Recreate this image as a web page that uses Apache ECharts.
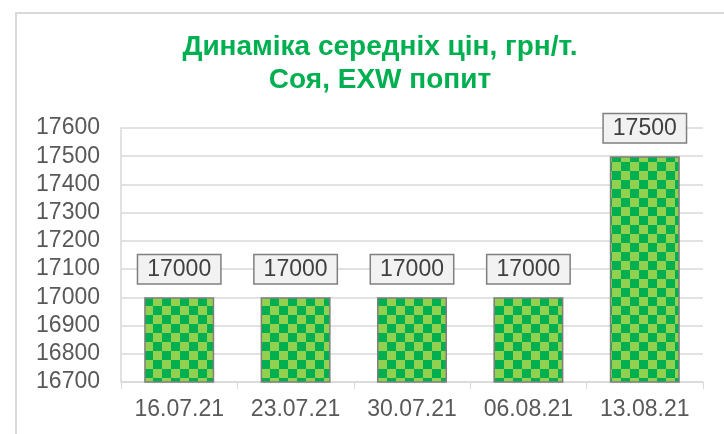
<!DOCTYPE html>
<html>
<head>
<meta charset="utf-8">
<script src="https://cdn.jsdelivr.net/npm/echarts@6/dist/echarts.min.js"></script>
<style>
  html, body { margin: 0; padding: 0; background: #fff; }
  #chart { width: 724px; height: 434px; }
</style>
</head>
<body>
<div id="chart"></div>
<script>
  // data
  var dates = ['16.07.21', '23.07.21', '30.07.21', '06.08.21', '13.08.21'];
  var prices = [17000, 17000, 17000, 17000, 17500];
  var titleLines = ['Динаміка середніх цін, грн/т.', 'Соя, EXW попит'];

  // chequered fill like the excel pattern
  var cell = 9;
  var pat = document.createElement('canvas');
  pat.width = cell * 2;
  pat.height = cell * 2;
  var ctx = pat.getContext('2d');
  ctx.fillStyle = '#92D050';
  ctx.fillRect(0, 0, cell * 2, cell * 2);
  ctx.fillStyle = '#00B050';
  ctx.fillRect(cell, 0, cell, cell);
  ctx.fillRect(0, cell, cell, cell);

  var font = '"Liberation Sans", Arial, sans-serif';
  var chart = echarts.init(document.getElementById('chart'));
  chart.setOption({
    animation: false,
    graphic: [
      {
        type: 'rect',
        shape: { x: 16, y: 13, width: 740, height: 440 },
        style: { fill: 'none', stroke: '#d9d9d9', lineWidth: 2 },
        silent: true
      },
      {
        type: 'text',
        x: 380,
        y: 31,
        style: {
          text: titleLines.join('\n'),
          align: 'center',
          fill: '#00B050',
          font: 'bold 28px "Liberation Sans", Arial, sans-serif',
          lineHeight: 33
        }
      }
    ],
    grid: { left: 121, right: 21, top: 128, bottom: 52 },
    xAxis: {
      type: 'category',
      data: dates,
      axisLine: { lineStyle: { color: '#d9d9d9', width: 1.5 } },
      axisTick: { show: true, length: 7, lineStyle: { color: '#d9d9d9' } },
      axisLabel: { color: '#595959', fontSize: 23, fontFamily: font, margin: 16 }
    },
    yAxis: {
      type: 'value',
      min: 16700,
      max: 17600,
      interval: 100,
      axisLine: { show: true, lineStyle: { color: '#d9d9d9', width: 1.5 } },
      axisTick: { show: false },
      splitLine: { lineStyle: { color: '#d9d9d9', width: 1.5 } },
      axisLabel: {
        color: '#595959', fontSize: 23, fontFamily: font, margin: 21,
        formatter: function (v) { return String(v); }
      }
    },
    series: [{
      type: 'bar',
      data: prices,
      barWidth: 70,
      itemStyle: {
        color: { image: pat, repeat: 'repeat' },
        borderColor: '#7f7f7f',
        borderWidth: 1.5
      },
      label: {
        show: true,
        position: 'top',
        distance: 14,
        color: '#404040',
        fontSize: 23,
        fontFamily: font,
        backgroundColor: '#f2f2f2',
        borderColor: '#7f7f7f',
        borderWidth: 1.5,
        padding: [3, 9, 2, 9]
      }
    }]
  });
</script>
</body>
</html>
